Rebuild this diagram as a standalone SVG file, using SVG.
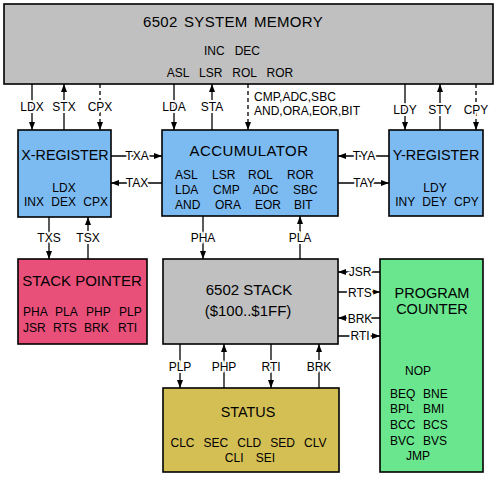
<svg xmlns="http://www.w3.org/2000/svg" width="500" height="477" viewBox="0 0 500 477">
<defs>
<marker id="ah" viewBox="0 0 8 6" refX="8" refY="3" markerWidth="8" markerHeight="6" markerUnits="userSpaceOnUse" orient="auto">
<path d="M0,0 L8,3 L0,6 z" fill="#000"/>
</marker>
<style>
text{font-family:"Liberation Sans",Arial,sans-serif;fill:#000}
.box{stroke:#000;stroke-width:1.6}
.t{font-size:15px}
.s{font-size:12px}
.m{text-anchor:middle}
.lbl{font-size:12px;text-anchor:middle;paint-order:stroke;stroke:#fff;stroke-width:4px;stroke-linejoin:round}
.c line{stroke:#000;stroke-width:1.3;fill:none}
.c .d{stroke-dasharray:4 3}
</style>
</defs>
<rect width="500" height="477" fill="#fff"/>

<g id="memory">
<rect class="box" x="4" y="4" width="489" height="80" fill="#c0c0c0"/>
<text class="t m" x="233" y="27" letter-spacing="0.3" word-spacing="2">6502 SYSTEM MEMORY</text>
<text class="s m" x="232" y="55" word-spacing="6.7">INC DEC</text>
<text class="s m" x="230" y="77" word-spacing="6.7">ASL LSR ROL ROR</text>
</g>

<g id="xreg">
<rect class="box" x="18" y="130" width="93" height="87" fill="#7cbaf2"/>
<text class="m" x="65" y="160" font-size="14.3">X-REGISTER</text>
<text class="s m" x="64" y="192">LDX</text>
<text class="s m" x="66" y="206" word-spacing="4">INX DEX CPX</text>
</g>

<g id="accumulator">
<rect class="box" x="162" y="130" width="176" height="86" fill="#7cbaf2"/>
<text class="t m" x="249" y="156" letter-spacing="0.4">ACCUMULATOR</text>
<text class="s" x="175" y="179">ASL</text>
<text class="s" x="212" y="179">LSR</text>
<text class="s" x="248" y="179">ROL</text>
<text class="s" x="287" y="179">ROR</text>
<text class="s" x="175" y="194">LDA</text>
<text class="s" x="213" y="194">CMP</text>
<text class="s" x="253" y="194">ADC</text>
<text class="s" x="293" y="194">SBC</text>
<text class="s" x="175" y="209">AND</text>
<text class="s" x="215" y="209">ORA</text>
<text class="s" x="255" y="209">EOR</text>
<text class="s" x="294" y="209">BIT</text>
</g>

<g id="yreg">
<rect class="box" x="389" y="130" width="94" height="86" fill="#7cbaf2"/>
<text class="m" x="436" y="160" font-size="14.4">Y-REGISTER</text>
<text class="s m" x="435" y="192">LDY</text>
<text class="s m" x="437" y="206" word-spacing="4">INY DEY CPY</text>
</g>

<g id="stackpointer">
<rect class="box" x="18" y="259" width="129" height="85" fill="#e8507a"/>
<text class="t m" x="82" y="286">STACK POINTER</text>
<text class="s" x="23" y="316">PHA</text>
<text class="s" x="55" y="316">PLA</text>
<text class="s" x="86" y="316">PHP</text>
<text class="s" x="119" y="316">PLP</text>
<text class="s" x="23" y="332">JSR</text>
<text class="s" x="53" y="332">RTS</text>
<text class="s" x="84" y="332">BRK</text>
<text class="s" x="118" y="332">RTI</text>
</g>

<g id="stack">
<rect class="box" x="163" y="259" width="175" height="85" fill="#c0c0c0"/>
<text class="t m" x="249" y="295">6502 STACK</text>
<text class="t m" x="248" y="316">($100..$1FF)</text>
</g>

<g id="pc">
<rect class="box" x="380" y="259" width="103" height="213" fill="#6ae68e"/>
<text class="m" x="432" y="298" font-size="14.5">PROGRAM</text>
<text class="m" x="432" y="314" font-size="14.5">COUNTER</text>
<text class="s m" x="418" y="375">NOP</text>
<text class="s" x="390" y="398">BEQ</text>
<text class="s" x="423" y="398">BNE</text>
<text class="s" x="390" y="413">BPL</text>
<text class="s" x="423" y="413">BMI</text>
<text class="s" x="390" y="429">BCC</text>
<text class="s" x="423" y="429">BCS</text>
<text class="s" x="390" y="445">BVC</text>
<text class="s" x="423" y="445">BVS</text>
<text class="s m" x="418" y="460">JMP</text>
</g>

<g id="status">
<rect class="box" x="163" y="388" width="176" height="84" fill="#d4bf55"/>
<text class="m" x="248" y="417" font-size="14.4">STATUS</text>
<text class="s m" x="248.5" y="447" word-spacing="5.7">CLC SEC CLD SED CLV</text>
<text class="s m" x="250" y="462" word-spacing="9">CLI SEI</text>
</g>

<g id="connectors" class="c">
<line x1="32" y1="84" x2="32" y2="130" marker-end="url(#ah)"/>
<line x1="64" y1="130" x2="64" y2="84" marker-end="url(#ah)"/>
<line class="d" x1="100" y1="84" x2="100" y2="130" marker-end="url(#ah)"/>
<line x1="174" y1="84" x2="174" y2="130" marker-end="url(#ah)"/>
<line x1="212" y1="130" x2="212" y2="84" marker-end="url(#ah)"/>
<line class="d" x1="248" y1="84" x2="248" y2="130" marker-end="url(#ah)"/>
<line x1="405" y1="84" x2="405" y2="130" marker-end="url(#ah)"/>
<line x1="440" y1="130" x2="440" y2="84" marker-end="url(#ah)"/>
<line class="d" x1="476" y1="84" x2="476" y2="130" marker-end="url(#ah)"/>

<line x1="111" y1="156" x2="162" y2="156" marker-end="url(#ah)"/>
<line x1="162" y1="183" x2="111" y2="183" marker-end="url(#ah)"/>
<line x1="389" y1="156" x2="338" y2="156" marker-end="url(#ah)"/>
<line x1="338" y1="183" x2="389" y2="183" marker-end="url(#ah)"/>

<line x1="49" y1="217" x2="49" y2="259" marker-end="url(#ah)"/>
<line x1="88" y1="259" x2="88" y2="217" marker-end="url(#ah)"/>
<line x1="203" y1="216" x2="203" y2="259" marker-end="url(#ah)"/>
<line x1="300" y1="259" x2="300" y2="216" marker-end="url(#ah)"/>

<line x1="380" y1="272" x2="338" y2="272" marker-end="url(#ah)"/>
<line x1="338" y1="292" x2="380" y2="292" marker-end="url(#ah)"/>
<line x1="380" y1="318" x2="338" y2="318" marker-end="url(#ah)"/>
<line x1="338" y1="336" x2="380" y2="336" marker-end="url(#ah)"/>

<line x1="180" y1="344" x2="180" y2="388" marker-end="url(#ah)"/>
<line x1="224" y1="388" x2="224" y2="344" marker-end="url(#ah)"/>
<line x1="271" y1="344" x2="271" y2="388" marker-end="url(#ah)"/>
<line x1="319" y1="388" x2="319" y2="344" marker-end="url(#ah)"/>

<text class="lbl" x="32" y="111">LDX</text>
<text class="lbl" x="64" y="111">STX</text>
<text class="lbl" x="100" y="111">CPX</text>
<text class="lbl" x="174" y="111">LDA</text>
<text class="lbl" x="212" y="111">STA</text>
<text class="s" x="254" y="101">CMP,ADC,SBC</text>
<text class="s" x="254" y="115">AND,ORA,EOR,BIT</text>
<text class="lbl" x="405" y="114">LDY</text>
<text class="lbl" x="440" y="114">STY</text>
<text class="lbl" x="476" y="114">CPY</text>

<text class="lbl" x="137" y="160">TXA</text>
<text class="lbl" x="137" y="187">TAX</text>
<text class="lbl" x="364" y="160">TYA</text>
<text class="lbl" x="364" y="187">TAY</text>

<text class="lbl" x="49" y="242">TXS</text>
<text class="lbl" x="88" y="242">TSX</text>
<text class="lbl" x="203" y="242">PHA</text>
<text class="lbl" x="300" y="242">PLA</text>

<text class="lbl" x="360" y="276">JSR</text>
<text class="lbl" x="360" y="297">RTS</text>
<text class="lbl" x="360" y="323">BRK</text>
<text class="lbl" x="360" y="340">RTI</text>

<text class="lbl" x="180" y="371">PLP</text>
<text class="lbl" x="224" y="371">PHP</text>
<text class="lbl" x="271" y="371">RTI</text>
<text class="lbl" x="319" y="371">BRK</text>
</g>
</svg>
